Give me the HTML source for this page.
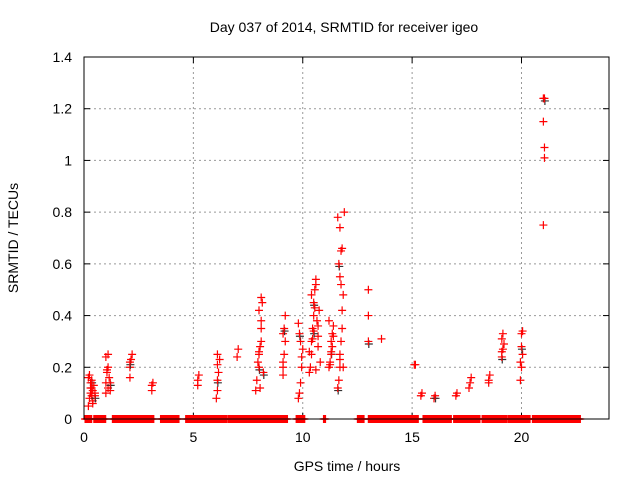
<!DOCTYPE html>
<html><head><meta charset="utf-8"><style>
body{margin:0;background:#fff;}
svg{display:block;font-family:"Liberation Sans",sans-serif;}
</style></head><body>
<svg id="chart" width="640" height="480" viewBox="0 0 640 480">
<rect width="640" height="480" fill="#fff"/>
<text x="344" y="32" font-size="14" text-anchor="middle">Day 037 of 2014, SRMTID for receiver igeo</text>
<text x="347" y="471" font-size="14" text-anchor="middle">GPS time / hours</text>
<text transform="translate(18,238) rotate(-90)" font-size="14" text-anchor="middle">SRMTID / TECUs</text>
<g id="grid"></g><g id="ticks"></g><g id="marks"></g>
<rect x="84" y="57" width="525" height="362" fill="none" stroke="#000" stroke-width="1"/>
</svg>
<script>
const xTicks=[0,5,10,15,20];
const yTicks=[0,0.2,0.4,0.6,0.8,1,1.2,1.4];
const yTickLabels=["0","0.2","0.4","0.6","0.8","1","1.2","1.4"];
// nonzero points: hours, values
const ptX=[0.2,0.25,0.3,0.3,0.35,0.35,0.4,0.4,0.45,0.5,0.2,0.3,0.4,0.5,0.25,0.35,
1.0,1.0,1.05,1.1,1.1,1.15,1.2,1.0,1.1,1.2,1.05,
2.1,2.1,2.15,2.2,2.1,3.1,3.1,3.15,
5.2,5.2,5.25,6.05,6.1,6.1,6.15,6.1,6.2,6.1,7.0,7.05,
7.85,7.9,8.0,8.0,8.05,8.1,8.1,8.0,8.15,8.1,7.95,8.2,8.05,8.1,8.0,
9.1,9.1,9.15,9.2,9.1,9.15,9.2,9.1,
9.8,9.85,9.9,9.95,10.0,9.9,9.85,9.8,9.95,
10.3,10.35,10.4,10.4,10.45,10.5,10.5,10.55,10.6,10.6,10.65,10.7,10.7,10.75,10.8,10.5,10.4,10.6,10.7,10.3,10.55,10.45,
11.2,11.25,11.3,11.3,11.35,11.4,11.2,11.3,11.25,11.35,11.4,
11.6,11.65,11.7,11.7,11.75,11.8,11.8,11.85,11.7,11.65,11.75,11.8,11.7,11.6,11.9,11.85,11.75,11.7,
13.0,13.0,13.0,13.6,15.1,15.15,15.4,15.45,16.0,16.05,17.0,17.05,
17.6,17.65,17.7,18.5,18.55,18.5,19.1,19.15,19.2,19.1,19.15,19.1,
19.95,20.0,20.05,20.0,20.05,19.95,20.0,
21.0,21.05,21.05,21.0,21.0,21.05];
const ptY=[0.05,0.08,0.1,0.12,0.15,0.09,0.07,0.11,0.13,0.1,0.16,0.14,0.06,0.09,0.17,0.12,
0.1,0.14,0.18,0.12,0.2,0.16,0.14,0.24,0.25,0.11,0.19,
0.16,0.2,0.23,0.25,0.22,0.11,0.13,0.14,
0.13,0.15,0.17,0.08,0.11,0.15,0.18,0.21,0.23,0.25,0.24,0.27,
0.11,0.15,0.2,0.25,0.28,0.3,0.38,0.42,0.45,0.47,0.22,0.18,0.12,0.35,0.26,
0.17,0.2,0.25,0.3,0.33,0.35,0.4,0.22,
0.08,0.1,0.14,0.2,0.27,0.3,0.33,0.37,0.24,
0.18,0.2,0.25,0.3,0.35,0.4,0.45,0.5,0.52,0.54,0.38,0.32,0.28,0.42,0.22,0.34,0.48,0.19,0.36,0.26,0.43,0.31,
0.2,0.22,0.26,0.3,0.33,0.36,0.38,0.25,0.21,0.28,0.32,
0.12,0.15,0.2,0.25,0.3,0.35,0.42,0.48,0.55,0.6,0.65,0.66,0.74,0.78,0.8,0.2,0.52,0.23,
0.3,0.4,0.5,0.31,0.21,0.21,0.09,0.1,0.08,0.09,0.09,0.1,
0.12,0.14,0.16,0.14,0.17,0.15,0.24,0.27,0.29,0.31,0.33,0.26,
0.15,0.2,0.25,0.28,0.34,0.22,0.33,
0.75,1.01,1.05,1.15,1.24,1.24];
// zero-value spans in hours
const zeroStart=[0.05,0.45,1.3,3.5,4.65,6.6,9.7,10.95,12.5,13.0,15.5,16.9,18.2,19.4,20.5];
const zeroEnd=[0.35,1.0,3.2,4.35,6.55,9.3,10.1,11.05,12.8,15.3,16.8,18.1,19.35,20.4,22.7];
const X=h=>84+h*(525/24), Y=v=>419-v*(362/1.4);
const NS="http://www.w3.org/2000/svg";
function mk(t,a,p){const e=document.createElementNS(NS,t);for(const k in a)e.setAttribute(k,a[k]);p.appendChild(e);return e;}
const grid=document.getElementById('grid'),ticks=document.getElementById('ticks'),marks=document.getElementById('marks');
xTicks.forEach(t=>{const x=X(t);
 if(t>0){const g=mk('line',{x1:x,x2:x,y1:57,y2:419,stroke:'#999','stroke-dasharray':'2,3'},grid);
 
 }
 mk('line',{x1:x,x2:x,y1:419,y2:413,stroke:'#000'},ticks);
 mk('line',{x1:x,x2:x,y1:57,y2:63,stroke:'#000'},ticks);
 const l=mk('text',{x:x,y:442,'font-size':14,'text-anchor':'middle'},ticks);l.textContent=t;
 
 });
yTicks.forEach((t,i)=>{const y=Y(t);
 if(t>0&&t<1.4){const g=mk('line',{x1:84,x2:609,y1:y,y2:y,stroke:'#999','stroke-dasharray':'2,3'},grid);
 
 }
 mk('line',{x1:84,x2:90,y1:y,y2:y,stroke:'#000'},ticks);
 mk('line',{x1:603,x2:609,y1:y,y2:y,stroke:'#000'},ticks);
 const l=mk('text',{x:72,y:y+5,'font-size':14,'text-anchor':'end'},ticks);l.textContent=yTickLabels[i];
 
 });
function plus(h,v,c){const x=X(h),y=Y(v);
 const g=mk('path',{d:`M${x-4} ${y}h8M${x} ${y-4}v8`,stroke:c,'stroke-width':1.2,fill:'none'},marks);
 
 }
zeroStart.forEach((s,i)=>{for(let h=s;h<=zeroEnd[i]+1e-9;h+=0.03)plus(h,0,'#f00');});
ptX.forEach((h,i)=>{if(i%9===4)plus(h+0.02,ptY[i]-0.01,'#333');plus(h,ptY[i],'#f00');});
</script>
</body></html>
